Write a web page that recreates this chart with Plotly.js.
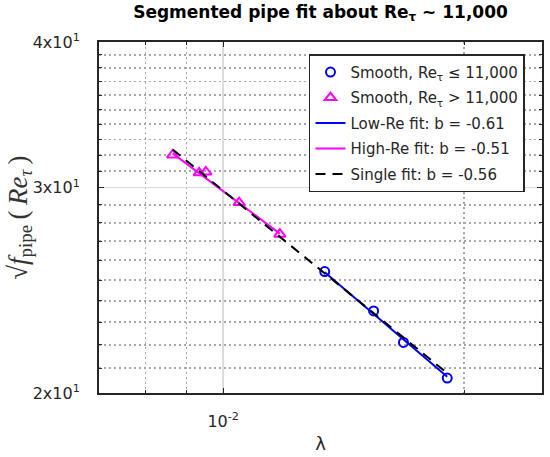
<!DOCTYPE html>
<html>
<head>
<meta charset="utf-8">
<script src="https://cdn.plot.ly/plotly-3.0.1.min.js"></script>
<style>html,body{margin:0;padding:0;background:#fff;}#chart{width:550px;height:457px;}</style>
</head>
<body>
<div id="chart"></div>
<script>
// Smooth pipe data, Re_tau <= 11,000 (circles)
var lowLambda = [0.01339, 0.01541, 0.01679, 0.01904];
var lowF = [25.42, 23.52, 22.10, 20.60];
// Smooth pipe data, Re_tau > 11,000 (triangles)
var highLambda = [0.00865, 0.009335, 0.009516, 0.01047, 0.01177];
var highF = [32.0, 30.89, 30.95, 29.13, 27.37];
// Fit line endpoints
var lowFitLambda = [0.01339, 0.01904];
var lowFitF = [25.38, 20.65];
var highFitLambda = [0.00865, 0.01177];
var highFitF = [32.1, 27.4];
var singleFitLambda = [0.00865, 0.01904];
var singleFitF = [32.35, 20.8];
// Axis ticks
var xTickVals = [0.01];
var xTickText = ['10<sup>-2</sup>'];
var xMinorVals = [0.008, 0.009, 0.02];
var yTickVals = [20, 30, 40];
var yTickText = ['2x10<sup>1</sup>', '3x10<sup>1</sup>', '4x10<sup>1</sup>'];
var yMinorVals = [21,22,23,24,25,26,27,28,29,31,32,33,34,35,36,37,38,39];
// Labels
var titleText = '<b>Segmented pipe fit about Re<sub>τ</sub> ~ 11,000</b>';
var xLabel = 'λ';
var yLabel = '√<i>f</i><sub>pipe</sub>\u2009(\u2009<i>Re</i><sub><i>τ</i></sub>\u2009)';
// Legend names
var names = ['Smooth, Re<sub>τ</sub> ≤ 11,000', 'Smooth, Re<sub>τ</sub> > 11,000',
             'Low-Re fit: b = -0.61', 'High-Re fit: b = -0.51', 'Single fit: b = -0.56'];

var traces = [
  {x: lowLambda, y: lowF, mode: 'markers', name: names[0], legendgroup: 'a',
   marker: {symbol: 'circle-open', size: 9, color: '#0000ff', line: {width: 2, color: '#0000ff'}}},
  {x: highLambda, y: highF, mode: 'markers', name: names[1], legendgroup: 'b',
   marker: {symbol: 'triangle-up-open', size: 10, color: '#ff00ff', line: {width: 2, color: '#ff00ff'}}},
  {x: lowFitLambda, y: lowFitF, mode: 'lines', name: names[2], legendgroup: 'c',
   line: {color: '#0000ff', width: 2}},
  {x: highFitLambda, y: highFitF, mode: 'lines', name: names[3], legendgroup: 'd',
   line: {color: '#ff00ff', width: 2}},
  {x: singleFitLambda, y: singleFitF, mode: 'lines', name: names[4], legendgroup: 'e',
   line: {color: '#000000', width: 2, dash: '10px,7px'}}
];

var tickFont = {family: 'DejaVu Sans', size: 16, color: '#262626'};
var layout = {
  width: 550, height: 457,
  margin: {l: 99, r: 8, t: 42, b: 64},
  paper_bgcolor: '#ffffff', plot_bgcolor: '#ffffff',
  showlegend: true,
  title: {text: titleText,
          font: {family: 'DejaVu Sans', size: 17, color: '#000000'},
          x: 0.5, xref: 'paper', y: 0.974, yref: 'container', yanchor: 'middle'},
  xaxis: {type: 'log', range: [Math.log10(0.007), Math.log10(0.025)],
          tickmode: 'array', tickvals: xTickVals, ticktext: xTickText,
          tickfont: tickFont, ticks: 'inside', ticklen: 5, tickcolor: '#262626', tickwidth: 1,
          ticklabelstandoff: 13,
          showgrid: true, gridcolor: '#dcdcdc', gridwidth: 1.5,
          showline: true, linecolor: '#262626', linewidth: 2, mirror: 'allticks',
          zeroline: false,
          minor: {tickmode: 'array', tickvals: xMinorVals, showgrid: true, gridcolor: '#a8a8a8',
                  gridwidth: 1.8, griddash: '2px,3px', ticks: 'inside', ticklen: 3, tickcolor: '#262626'},
          title: {text: xLabel, font: {family: 'DejaVu Sans', size: 18, color: '#262626'}, standoff: 7}},
  yaxis: {type: 'log', range: [Math.log10(20), Math.log10(40)],
          tickmode: 'array', tickvals: yTickVals, ticktext: yTickText,
          tickfont: tickFont, ticks: 'inside', ticklen: 5, tickcolor: '#262626', tickwidth: 1,
          ticklabelstandoff: 14,
          showgrid: true, gridcolor: '#dcdcdc', gridwidth: 1.5,
          showline: true, linecolor: '#262626', linewidth: 2, mirror: 'allticks',
          zeroline: false,
          minor: {tickmode: 'array', tickvals: yMinorVals, showgrid: true, gridcolor: '#a8a8a8',
                  gridwidth: 1.8, griddash: '2px,3px', ticks: 'inside', ticklen: 3, tickcolor: '#262626'}},
  annotations: [
    {text: yLabel, xref: 'paper', yref: 'paper', x: -0.18, y: 0.5,
     xanchor: 'center', yanchor: 'middle', textangle: -90, showarrow: false,
     font: {family: 'Liberation Serif', size: 27, color: '#333333'}}
  ],
  legend: {x: 0.474, xanchor: 'left', y: 0.965, yanchor: 'top',
           bgcolor: '#ffffff', bordercolor: '#262626', borderwidth: 1.5,
           font: {family: 'DejaVu Sans', size: 15, color: '#262626'},
           traceorder: 'grouped', tracegroupgap: 3}
};

Plotly.newPlot('chart', traces, layout, {displayModeBar: false, staticPlot: true});
</script>
</body>
</html>
